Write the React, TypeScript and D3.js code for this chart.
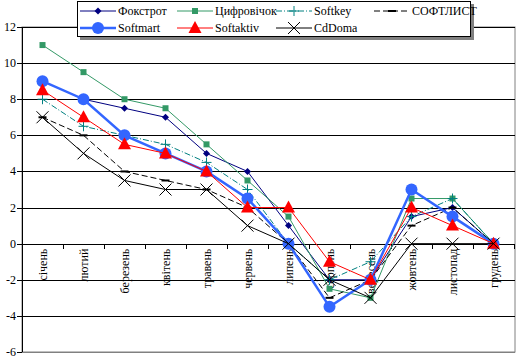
import React from "react";
import * as d3 from "d3";

const months = ["січень", "лютий", "березень", "квітень", "травень", "червень", "липень", "серпень", "вересень", "жовтень", "листопад", "грудень"];
const yTicks = [-6, -4, -2, 0, 2, 4, 6, 8, 10, 12];

const foxtrot = [9, 8, 7.5, 7, 5, 4, 1, -2, -2, 1.5, 2, 0];
const tsyfrovichok = [11, 9.5, 8, 7.5, 5.5, 3.5, 1.5, -2.5, -3, 2.5, 2.5, 0];
const softkey = [8, 6.5, 6, 5.5, 4.5, 3, 0, -2, -1, 1.5, 2.5, 0];
const softlist = [7, 6, 4, 3.5, 3, 2, 0, -3, -2, 1, 2, 0];
const softmart = [9, 8, 6, 5, 4, 2.5, 0, -3.5, -2, 3, 1.5, 0];
const softaktiv = [8.5, 7, 5.5, 5, 4, 2, 2, -1, -2, 2, 1, 0];
const cddoma = [7, 5, 3.5, 3, 3, 1, 0, -2, -3, 0, 0, 0];

type Marker = "diamond" | "square" | "plus" | "dash" | "circle" | "triangle" | "x";
interface Series { name: string; values: number[]; color: string; width: number; dash?: string; marker: Marker; }

const series: Series[] = [
  { name: "Фокстрот", values: foxtrot, color: "#000080", width: 1, marker: "diamond" },
  { name: "Цифровічок", values: tsyfrovichok, color: "#339966", width: 1, marker: "square" },
  { name: "Softkey", values: softkey, color: "#008080", width: 1, dash: "6,2,1,2", marker: "plus" },
  { name: "СОФТЛИСТ", values: softlist, color: "#000000", width: 1, dash: "6,3", marker: "dash" },
  { name: "Softmart", values: softmart, color: "#3366FF", width: 2.5, marker: "circle" },
  { name: "Softaktiv", values: softaktiv, color: "#FF0000", width: 1, marker: "triangle" },
  { name: "CdDoma", values: cddoma, color: "#000000", width: 1, marker: "x" },
];

const FONT = "Liberation Serif";
const textStyle = { fontFamily: FONT };

function MarkerShape({ m, color, x, y }: { m: Marker; color: string; x: number; y: number }) {
  switch (m) {
    case "diamond":
      return <path d={`M${x},${y - 3.5}L${x + 3.5},${y}L${x},${y + 3.5}L${x - 3.5},${y}Z`} fill={color} />;
    case "square":
      return <rect x={x - 3} y={y - 3} width={6} height={6} fill={color} />;
    case "plus":
      return <path d={`M${x - 5},${y}H${x + 5}M${x},${y - 5}V${y + 5}`} stroke={color} strokeWidth={1} />;
    case "dash":
      return <path d={`M${x - 4},${y}H${x + 4}`} stroke={color} strokeWidth={2} />;
    case "circle":
      return <circle cx={x} cy={y} r={6} fill={color} />;
    case "triangle":
      return <path d={`M${x},${y - 7}L${x + 6.5},${y + 5}L${x - 6.5},${y + 5}Z`} fill={color} />;
    case "x":
      return <path d={`M${x - 6},${y - 6}L${x + 6},${y + 6}M${x + 6},${y - 6}L${x - 6},${y + 6}`} stroke={color} strokeWidth={1} />;
  }
}

export default function App() {
  const W = 518, H = 357;
  const left = 22, right = 514, top = 27, bottom = 352;
  const x = d3.scaleBand<string>().domain(months).range([left, right]);
  const y = d3.scaleLinear().domain([-6, 12]).range([bottom, top]);
  const cx = (m: string) => (x(m) as number) + x.bandwidth() / 2;
  const line = d3.line<number>().x((_, i) => cx(months[i])).y((v) => y(v));

  const legendCols = [80, 177, 276, 374];
  const legendRows = [11, 28];

  return (
    <svg width={W} height={H} style={{ position: "absolute", left: 0, top: 0, background: "#fff" }}>
      <rect x={0} y={0} width={W} height={H} fill="#fff" />
      <rect x={left} y={top} width={right - left + 1} height={bottom - top} fill="none" stroke="#808080" strokeWidth={1} />
      {yTicks.map((t) => (
        <line key={t} x1={left} x2={right + 1} y1={Math.round(y(t)) + 0.5} y2={Math.round(y(t)) + 0.5} stroke={t === -6 ? "#808080" : "#000"} strokeWidth={1} />
      ))}
      <line x1={left + 0.5} x2={left + 0.5} y1={top} y2={bottom} stroke="#000" />
      {yTicks.map((t) => (
        <g key={"yt" + t}>
          <line x1={left - 5} x2={left} y1={Math.round(y(t)) + 0.5} y2={Math.round(y(t)) + 0.5} stroke="#000" />
          <text x={left - 6} y={Math.min(y(t) + 4, H - 1)} fontSize={12} textAnchor="end" fill="#000" style={textStyle}>{t}</text>
        </g>
      ))}
      {months.map((m) => (
        <line key={"xt" + m} x1={Math.round((x(m) as number) + x.bandwidth()) + 0.5} x2={Math.round((x(m) as number) + x.bandwidth()) + 0.5} y1={Math.round(y(0))} y2={Math.round(y(0)) + 5} stroke="#000" />
      ))}
      {months.map((m) => (
        <text key={"xl" + m} transform={`translate(${cx(m) + 4},${y(0) + 5}) rotate(-90)`} fontSize={12} textAnchor="end" fill="#000" style={textStyle}>{m}</text>
      ))}
      {series.map((s) => (
        <g key={s.name}>
          <path d={line(s.values) || ""} fill="none" stroke={s.color} strokeWidth={s.width} strokeDasharray={s.dash} />
          {s.values.map((v, i) => (
            <MarkerShape key={i} m={s.marker} color={s.color} x={cx(months[i])} y={y(v)} />
          ))}
        </g>
      ))}
      <rect x={80} y={4} width={394} height={36} fill="#808080" />
      <rect x={77.5} y={1.5} width={393} height={35} fill="#fff" stroke="#000" strokeWidth={1} />
      {series.map((s, i) => {
        const col = legendCols[i % 4];
        const row = legendRows[Math.floor(i / 4)];
        return (
          <g key={"lg" + s.name}>
            <line x1={col} x2={col + 36} y1={row} y2={row} stroke={s.color} strokeWidth={s.width} strokeDasharray={s.dash} />
            <MarkerShape m={s.marker} color={s.color} x={col + 18} y={row} />
            <text x={col + 38} y={row + 4} fontSize={12} fill="#000" style={textStyle}>{s.name}</text>
          </g>
        );
      })}
    </svg>
  );
}
